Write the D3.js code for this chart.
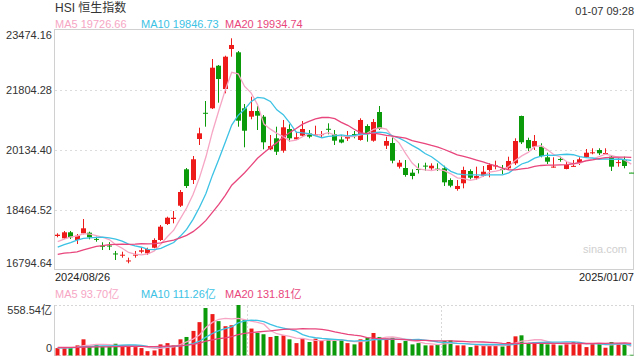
<!DOCTYPE html>
<html>
<head>
<meta charset="utf-8">
<script src="https://cdn.jsdelivr.net/npm/d3@7"></script>
<style>
  body { margin: 0; background: #fff; }
  svg { display: block; font-family: "Liberation Sans", Arial, "Noto Sans CJK SC", sans-serif; }
</style>
</head>
<body>
<svg id="chart" width="640" height="360"></svg>
<script>
const title = 'HSI 恒生指数';
const stamp = '01-07 09:28';
const dateLabels = ['2024/08/26', '2025/01/07'];
const priceTicks = [23474.16, 21804.28, 20134.40, 18464.52, 16794.64];
const volTicks = [0, 558.54];
const volTickLabels = ['0', '558.54亿'];
const maNames = ['MA5', 'MA10', 'MA20'];
const maPeriods = [5, 10, 20];
const maColors = ['#f6a6c4', '#3cc2e4', '#e8467c'];
const priceMaLegend = ['19726.66', '19846.73', '19934.74'];
const volMaLegend = ['93.70亿', '111.26亿', '131.81亿'];

// closes / volumes before the first visible day, only feed the moving averages
const priorCloses = [17147, 17344, 17304, 16945, 16698, 16647, 17031, 16891, 17090, 17112,
  17174, 17113, 17109, 17430, 17569, 17511, 17391, 17641, 17612];
const priorVolumes = [95, 88, 102, 90, 110, 98, 85, 92, 80, 88, 95, 83, 78, 86, 90, 84, 80, 88, 92];

const opens = [17741, 17677, 17844, 17630, 17816, 17833, 17660, 17470, 17475, 17255,
  17200, 17045, 17205, 17304, 17259, 17415, 17630, 18075, 18214, 18584,
  19597, 19299, 20441, 21170, 21295, 22480, 21832, 22945, 22853, 21295,
  21061, 21220, 21061, 20154, 20460, 20115, 20719, 20432, 20532, 20599,
  20555, 20560, 20725, 20571, 20427, 20454, 20580, 20413, 20802, 20393,
  21192, 20254, 20329, 19670, 19633, 19503, 19605, 19700, 19625, 19615,
  19625, 19299, 19049, 19208, 19550, 19347, 19419, 19578, 19690, 19605,
  19625, 19764, 21081, 20413, 20226, 20226, 19931, 19655, 19885, 19606,
  19680, 19781, 19931, 20043, 20134, 20035, 19948, 19785, 19856, 19505];
const highs = [17816, 17880, 17880, 17797, 18214, 17861, 17721, 17566, 17570, 17324,
  17304, 17137, 17324, 17415, 17415, 17677, 18047, 18278, 18437, 19021,
  19633, 19967, 20755, 21498, 22667, 22500, 22759, 23243, 22890, 21415,
  21618, 21359, 21108, 20552, 20783, 20970, 20850, 20644, 20941, 20691,
  20811, 20663, 20877, 20691, 20552, 20663, 20663, 21017, 20850, 20997,
  21359, 20505, 20505, 19856, 19856, 19597, 19764, 19781, 19764, 19764,
  19697, 19347, 19299, 19670, 19597, 19670, 19689, 19764, 19837, 19717,
  19948, 20460, 21090, 20477, 20552, 20321, 20059, 19931, 19948, 19828,
  19856, 19931, 20162, 20182, 20182, 20182, 19995, 19920, 19948, 19505];
const lows = [17705, 17658, 17658, 17518, 17788, 17649, 17582, 17351, 17350, 17073,
  17137, 16981, 17137, 17259, 17212, 17399, 17602, 18047, 18094, 18548,
  19077, 19188, 20274, 20783, 21275, 21451, 21712, 22731, 20783, 20210,
  20989, 20691, 20154, 20134, 19995, 20059, 20365, 20413, 20505, 20460,
  20538, 20477, 20571, 20274, 20321, 20385, 20460, 20393, 20365, 20365,
  20691, 20162, 19764, 19619, 19391, 19319, 19480, 19558, 19558, 19550,
  19133, 19096, 19002, 19068, 19319, 19299, 19391, 19375, 19597, 19466,
  19578, 19717, 20301, 20107, 20134, 19931, 19745, 19645, 19809, 19597,
  19670, 19717, 19920, 20015, 19995, 19995, 19550, 19670, 19625, 19500];
const closes = [17777, 17844, 17705, 17749, 17955, 17705, 17640, 17450, 17455, 17230,
  17220, 17060, 17222, 17343, 17379, 17630, 18000, 18250, 18250, 18966,
  19133, 19876, 20599, 21150, 22425, 22110, 22731, 23057, 20950, 20671,
  21220, 21089, 20349, 20246, 20087, 20766, 20460, 20488, 20719, 20505,
  20570, 20575, 20710, 20393, 20343, 20510, 20565, 20970, 20599, 20914,
  20719, 20385, 19837, 19781, 19439, 19411, 19590, 19685, 19697, 19600,
  19235, 19141, 19133, 19578, 19363, 19411, 19530, 19717, 19705, 19590,
  19828, 20385, 20349, 20182, 20385, 19967, 19809, 19672, 19870, 19717,
  19692, 19876, 20059, 20070, 20043, 20050, 19670, 19798, 19689, 19500];
const volumes = [82, 82, 93, 112, 179, 100, 123, 100, 100, 130,
  112, 112, 93, 82, 48, 56, 123, 137, 112, 179,
  205, 272, 369, 525, 458, 380, 324, 335, 558.5, 391,
  298, 249, 235, 205, 216, 223, 179, 137, 186, 149,
  186, 168, 175, 160, 175, 137, 123, 179, 197, 249,
  205, 186, 197, 137, 160, 123, 137, 112, 112, 123,
  160, 168, 112, 112, 93, 112, 112, 112, 112, 100,
  149, 212, 223, 137, 149, 149, 123, 123, 112, 137,
  149, 149, 93, 130, 137, 86, 149, 137, 123, 8];

const UP = '#ee1b1b';
const DOWN = '#0a9a0a';
const left = 54, right = 634;
const n = closes.length;

const svg = d3.select('#chart');

const x = d3.scalePoint().domain(d3.range(n)).range([left, right]).padding(0.5);
const cx = (i) => Math.round(x(i));
const y = d3.scaleLinear().domain([priceTicks[4], priceTicks[0]]).range([270, 30]);
const yv = d3.scaleLinear().domain(volTicks).range([355.5, 305]);

function movingAvg(prior, series, period) {
  const all = prior.concat(series);
  const off = prior.length;
  return d3.range(n).map((i) => d3.mean(all.slice(i + off - period + 1, i + off + 1)));
}

// header texts
svg.append('text').attr('x', 55).attr('y', 12).attr('font-size', 12).attr('fill', '#333').text(title);
svg.append('text').attr('x', right).attr('y', 14.5).attr('text-anchor', 'end')
  .attr('font-size', 11).attr('fill', '#333').text(stamp);

const legX = [55, 141, 225];
maNames.forEach((m, k) => {
  svg.append('text').attr('x', legX[k]).attr('y', 27.5).attr('font-size', 11)
    .attr('fill', maColors[k]).text(m + ' ' + priceMaLegend[k]);
  svg.append('text').attr('x', legX[k]).attr('y', 297.5).attr('font-size', 11)
    .attr('fill', maColors[k]).text(m + ' ' + volMaLegend[k]);
});

// price grid
const grid = svg.append('g');
grid.selectAll('line').data(priceTicks.slice(1, -1)).join('line')
  .attr('x1', left + 1).attr('x2', right - 1)
  .attr('y1', (d) => Math.round(y(d)) + 0.5).attr('y2', (d) => Math.round(y(d)) + 0.5)
  .attr('stroke', '#dcdcdc').attr('stroke-dasharray', '2,3');

svg.append('rect').attr('x', left + 0.5).attr('y', 29.5).attr('width', right - left - 1).attr('height', 240)
  .attr('fill', 'none').attr('stroke', '#d0d0d0');

// price labels
svg.append('g').selectAll('text').data(priceTicks).join('text')
  .attr('x', 52).attr('text-anchor', 'end').attr('font-size', 11).attr('fill', '#333')
  .attr('y', (d, i) => i === 0 ? y(d) + 8.5 : i === priceTicks.length - 1 ? y(d) - 3 : y(d) + 4)
  .text((d) => d.toFixed(2));

svg.append('text').attr('x', 583).attr('y', 253).attr('font-size', 11).attr('fill', '#cfcfcf').text('sina.com');

// candles
const candles = svg.append('g');
const idx = d3.range(n);
const col = (i) => (closes[i] >= opens[i] ? UP : DOWN);
candles.selectAll('line').data(idx).join('line')
  .attr('x1', (i) => cx(i) + 0.5).attr('x2', (i) => cx(i) + 0.5)
  .attr('y1', (i) => y(highs[i])).attr('y2', (i) => y(lows[i]))
  .attr('stroke', col);
candles.selectAll('rect').data(idx).join('rect')
  .attr('x', (i) => cx(i) - 2).attr('width', 5)
  .attr('y', (i) => y(Math.max(opens[i], closes[i])))
  .attr('height', (i) => Math.max(1, Math.abs(y(opens[i]) - y(closes[i]))))
  .attr('fill', col);

// price MA lines
maPeriods.forEach((p, k) => {
  const ma = movingAvg(priorCloses, closes, p);
  svg.append('path').datum(ma)
    .attr('fill', 'none').attr('stroke', maColors[k]).attr('stroke-width', 1.3)
    .attr('d', d3.line().x((d, i) => x(i) + 0.5).y((d) => y(d)));
});

// date labels
svg.append('text').attr('x', 55).attr('y', 281).attr('font-size', 11).attr('fill', '#222').text(dateLabels[0]);
svg.append('text').attr('x', right).attr('y', 281).attr('text-anchor', 'end')
  .attr('font-size', 11).attr('fill', '#222').text(dateLabels[1]);

// volume panel frame
const vp = svg.append('g');
vp.append('line').attr('x1', left + 0.5).attr('x2', left + 0.5).attr('y1', 305).attr('y2', 356).attr('stroke', '#d0d0d0');
vp.append('line').attr('x1', right - 0.5).attr('x2', right - 0.5).attr('y1', 305).attr('y2', 356).attr('stroke', '#d0d0d0');
[305.5, 355.5].forEach((yy) => {
  vp.append('line').attr('x1', left + 1).attr('x2', right - 1).attr('y1', yy).attr('y2', yy)
    .attr('stroke', '#d8d8d8').attr('stroke-dasharray', '2,2');
});
[29, 59].forEach((i) => {
  const xx = Math.round((x(i) + x(i + 1)) / 2) + 0.5;
  vp.append('line').attr('x1', xx).attr('x2', xx).attr('y1', 306).attr('y2', 355)
    .attr('stroke', '#d8d8d8').attr('stroke-dasharray', '2,2');
});

svg.append('g').selectAll('text').data(volTicks).join('text')
  .attr('x', 52).attr('text-anchor', 'end').attr('font-size', 11).attr('fill', '#333')
  .attr('y', (d, i) => (i === 0 ? yv(d) - 4 : yv(d) + 9))
  .text((d, i) => volTickLabels[i]);

// volume bars
svg.append('g').selectAll('rect').data(idx).join('rect')
  .attr('x', (i) => cx(i) - 1.5).attr('width', 4)
  .attr('y', (i) => yv(volumes[i]))
  .attr('height', (i) => yv(0) - yv(volumes[i]))
  .attr('fill', col);

maPeriods.forEach((p, k) => {
  const ma = movingAvg(priorVolumes, volumes, p);
  svg.append('path').datum(ma)
    .attr('fill', 'none').attr('stroke', maColors[k]).attr('stroke-width', 1.3)
    .attr('d', d3.line().x((d, i) => x(i) + 0.5).y((d) => yv(d)));
});
</script>
</body>
</html>
